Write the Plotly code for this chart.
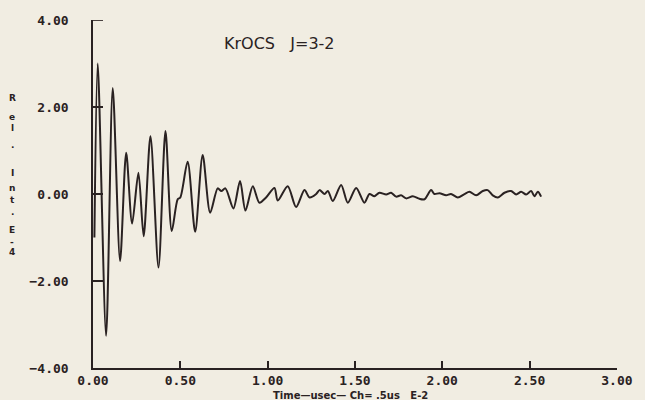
import plotly.graph_objects as go

# Time (units of E-2) and relative intensity (E-4)
time = [0.008, 0.027, 0.075, 0.113, 0.155, 0.19, 0.224, 0.26, 0.29, 0.329, 0.375, 0.415,
        0.451, 0.485, 0.50, 0.542, 0.585, 0.628, 0.671, 0.714, 0.735, 0.758, 0.804, 0.842,
        0.873, 0.915, 0.953, 0.991, 1.039, 1.058, 1.115, 1.163, 1.211, 1.24, 1.278, 1.297,
        1.326, 1.345, 1.373, 1.421, 1.459, 1.507, 1.554, 1.583, 1.611, 1.64, 1.679, 1.707,
        1.736, 1.764, 1.793, 1.831, 1.869, 1.898, 1.936, 1.955, 1.984, 2.022, 2.05, 2.089,
        2.127, 2.156, 2.194, 2.232, 2.26, 2.289, 2.318, 2.356, 2.394, 2.423, 2.452, 2.48,
        2.509, 2.528, 2.547, 2.566]
intensity = [-1.0, 3.0, -3.26, 2.44, -1.54, 0.95, -0.68, 0.49, -0.97, 1.33, -1.69, 1.45,
             -0.85, -0.12, -0.08, 0.74, -0.87, 0.90, -0.43, 0.13, 0.07, 0.13, -0.33, 0.30,
             -0.38, 0.18, -0.20, -0.08, 0.14, -0.15, 0.18, -0.30, 0.09, -0.08, 0.0, 0.09,
             0.0, 0.07, -0.16, 0.21, -0.20, 0.14, -0.20, 0.0, -0.05, 0.03, -0.01, 0.03,
             -0.06, -0.03, -0.10, -0.05, -0.11, -0.12, 0.09, 0.0, 0.02, -0.03, 0.0, -0.08,
             0.0, 0.05, -0.03, 0.07, 0.09, -0.03, -0.08, 0.03, 0.07, -0.01, 0.05, -0.01,
             0.07, -0.05, 0.05, -0.06]

x_ticks = [0, 0.5, 1.0, 1.5, 2.0, 2.5, 3.0]
y_ticks = [-4, -2, 0, 2, 4]
title_text = "KrOCS   J=3-2"
x_title = "Time—usec— Ch= .5us   E-2"
y_title_chars = ["R", "e", "l", ".", "I", "n", "t", ".", "E", "-", "4"]
y_title_pos = [98, 117, 128, 145, 173, 188, 200, 212, 230, 242, 252]

bg = "#f1ede2"
ink = "#2a2222"

fig = go.Figure()
fig.add_trace(go.Scatter(x=time, y=intensity, mode="lines",
                         line=dict(color=ink, width=2, shape="spline", smoothing=0.8),
                         showlegend=False, hoverinfo="skip"))

tickfont = dict(family="DejaVu Sans Mono", size=13, color=ink, weight="bold")
fig.update_layout(
    width=645, height=400,
    margin=dict(l=93, r=28, t=20, b=32),
    paper_bgcolor=bg, plot_bgcolor=bg,
    xaxis=dict(range=[0, 3.0005], tickvals=x_ticks, tickformat=".2f", showgrid=False, zeroline=False,
               showline=True, linecolor=ink, linewidth=1.5, ticks="inside", ticklen=7,
               tickcolor=ink, tickwidth=1.5, tickfont=tickfont, ticklabelstandoff=0),
    yaxis=dict(range=[-4.0005, 4.002], tickvals=y_ticks, tickformat=".2f", showgrid=False,
               zeroline=False, showline=True, linecolor=ink, linewidth=1.5, ticks="inside",
               ticklen=10, tickcolor=ink, tickwidth=1.5, tickfont=tickfont,
               ticklabelstandoff=20),
)

# short tick mark at the top of the y axis (at the 4.00 value)
fig.add_shape(type="line", xref="x domain", yref="y", x0=0, x1=10 / 524,
              y0=y_ticks[-1], y1=y_ticks[-1], line=dict(color=ink, width=1.5))

fig.add_annotation(text=title_text, xref="paper", yref="paper",
                   x=(222 - 93) / 524, y=(368 - 43) / 348, xanchor="left", yanchor="middle",
                   showarrow=False, font=dict(family="DejaVu Sans", size=16, color=ink))
fig.add_annotation(text=x_title, xref="paper", yref="paper",
                   x=(350 - 93) / 524, y=(368 - 395) / 348, xanchor="center", yanchor="middle",
                   showarrow=False,
                   font=dict(family="DejaVu Sans", size=10, color=ink, weight="bold"))
for ch, py in zip(y_title_chars, y_title_pos):
    fig.add_annotation(text=ch, xref="paper", yref="paper",
                       x=(12 - 93) / 524, y=(368 - py) / 348, xanchor="center", yanchor="middle",
                       showarrow=False,
                       font=dict(family="DejaVu Sans", size=9, color=ink, weight="bold"))

fig.write_html("out.html")
